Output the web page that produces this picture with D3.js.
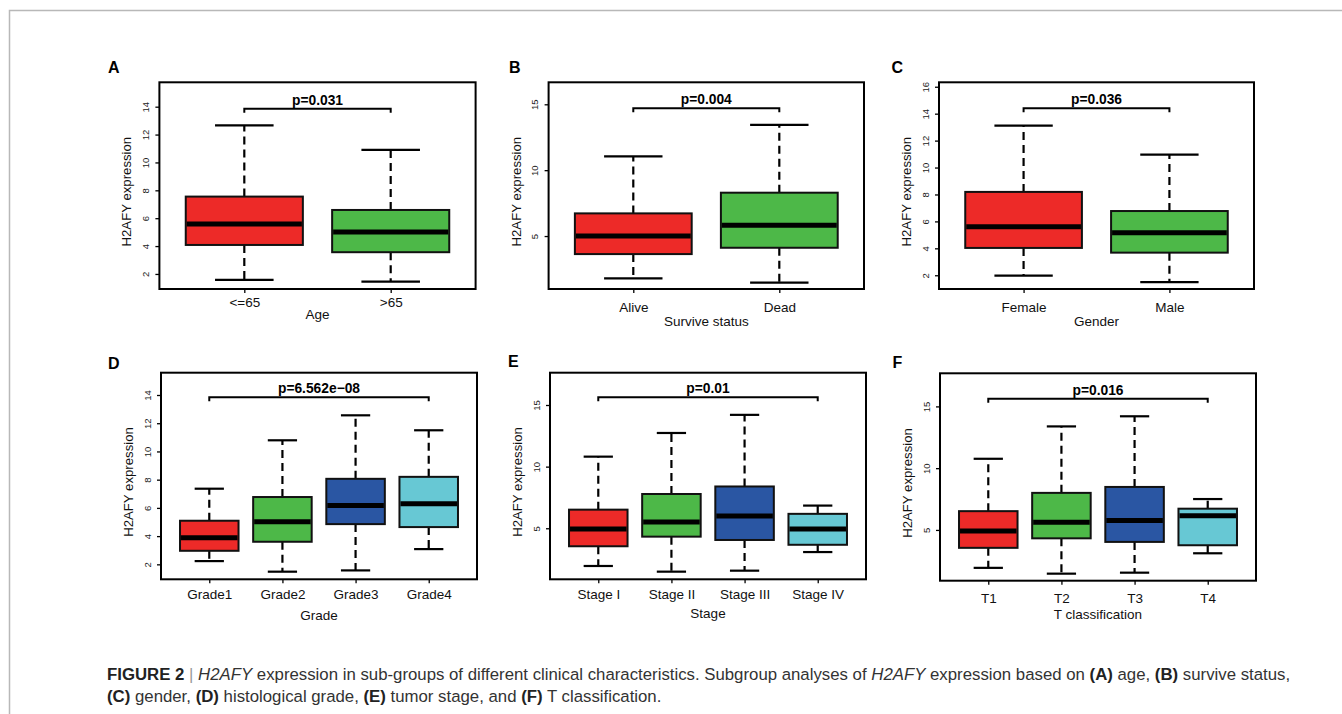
<!DOCTYPE html>
<html><head><meta charset="utf-8">
<script src="https://cdn.jsdelivr.net/npm/d3@7"></script>
<style>body{margin:0;background:#fff}svg{display:block}</style>
</head><body>
<svg id="chart" width="1342" height="714"></svg>
<script>
// ---------- DATA (each stat row: [lower whisker, Q1, median, Q3, upper whisker]) ----------
const yTitle = "H2AFY expression";

const ageGroups = ["<=65", ">65"];
const ageStats = [[1.57, 4.08, 5.59, 7.55, 12.66], [1.45, 3.56, 5.01, 6.59, 10.90]];
const ageTicks = [2, 4, 6, 8, 10, 12, 14];
const ageYLim = [0.92, 15.75];
const ageP = "p=0.031";
const ageBracket = 13.85;

const statusGroups = ["Alive", "Dead"];
const statusStats = [[1.79, 3.63, 5.00, 6.72, 11.04], [1.46, 4.11, 5.81, 8.29, 13.44]];
const statusTicks = [5, 10, 15];
const statusYLim = [0.98, 16.67];
const statusP = "p=0.004";
const statusBracket = 14.7;

const genderGroups = ["Female", "Male"];
const genderStats = [[1.97, 4.03, 5.61, 8.19, 13.11], [1.49, 3.68, 5.16, 6.77, 10.96]];
const genderTicks = [2, 4, 6, 8, 10, 12, 14, 16];
const genderYLim = [0.98, 16.33];
const genderP = "p=0.036";
const genderBracket = 14.4;

const gradeGroups = ["Grade1", "Grade2", "Grade3", "Grade4"];
const gradeStats = [[2.23, 2.96, 3.89, 5.09, 7.36], [1.48, 3.60, 5.02, 6.77, 10.79],
                    [1.57, 4.85, 6.17, 8.06, 12.56], [3.08, 4.64, 6.30, 8.20, 11.50]];
const gradeTicks = [2, 4, 6, 8, 10, 12, 14];
const gradeYLim = [0.94, 15.58];
const gradeP = "p=6.562e\u221208";
const gradeBracket = 13.84;

const stageGroups = ["Stage I", "Stage II", "Stage III", "Stage IV"];
const stageStats = [[1.94, 3.54, 4.95, 6.51, 10.81], [1.48, 4.32, 5.50, 7.78, 12.73],
                    [1.56, 4.05, 5.99, 8.39, 14.20], [3.07, 3.66, 4.95, 6.17, 6.84]];
const stageTicks = [5, 10, 15];
const stageYLim = [0.86, 17.62];
const stageP = "p=0.01";
const stageBracket = 15.62;

const tGroups = ["T1", "T2", "T3", "T4"];
const tStats = [[1.93, 3.55, 4.92, 6.52, 10.76], [1.46, 4.32, 5.62, 8.00, 13.38],
                [1.54, 4.03, 5.76, 8.48, 14.20], [3.11, 3.76, 6.15, 6.72, 7.50]];
const tTicks = [5, 10, 15];
const tYLim = [0.89, 17.68];
const tP = "p=0.016";
const tBracket = 15.61;

const boxColors = ["#ED2A28", "#4DB848", "#2A56A3", "#67C8D4"];

// ---------- LAYOUT ----------
const panels = [
  {letter: "A", lx: 108, ly: 72.7, groups: ageGroups, stats: ageStats, ticks: ageTicks, yLim: ageYLim, p: ageP, bracket: ageBracket, xTitle: "Age",
   x0: 159.4, x1: 475.6, y0: 82.3, y1: 289, labDy: 17.5, titDy: 30},
  {letter: "B", lx: 509, ly: 72.7, groups: statusGroups, stats: statusStats, ticks: statusTicks, yLim: statusYLim, p: statusP, bracket: statusBracket, xTitle: "Survive status",
   x0: 548.6, x1: 864, y0: 82.3, y1: 289, labDy: 22.5, titDy: 36.5},
  {letter: "C", lx: 891.5, ly: 72.7, groups: genderGroups, stats: genderStats, ticks: genderTicks, yLim: genderYLim, p: genderP, bracket: genderBracket, xTitle: "Gender",
   x0: 939, x1: 1254, y0: 82.3, y1: 289, labDy: 22.5, titDy: 36.5},
  {letter: "D", lx: 108, ly: 369, groups: gradeGroups, stats: gradeStats, ticks: gradeTicks, yLim: gradeYLim, p: gradeP, bracket: gradeBracket, xTitle: "Grade",
   x0: 161, x1: 477, y0: 372.7, y1: 579.3, labDy: 19.7, titDy: 40.5},
  {letter: "E", lx: 508, ly: 367, groups: stageGroups, stats: stageStats, ticks: stageTicks, yLim: stageYLim, p: stageP, bracket: stageBracket, xTitle: "Stage",
   x0: 550, x1: 866, y0: 372.7, y1: 579.3, labDy: 20, titDy: 39},
  {letter: "F", lx: 892.5, ly: 368.3, groups: tGroups, stats: tStats, ticks: tTicks, yLim: tYLim, p: tP, bracket: tBracket, xTitle: "T classification",
   x0: 940, x1: 1256, y0: 373.3, y1: 580.7, labDy: 22.3, titDy: 38}
];

const FONT = "'Liberation Sans', Arial, Helvetica, sans-serif";
const svg = d3.select("#chart").style("font-family", FONT);
svg.append("rect").attr("width", 1342).attr("height", 714).attr("fill", "#fff");

// figure frame (top and left)
svg.append("path").attr("d", "M9.5,714 L9.5,10.5 L1342,10.5")
   .attr("fill", "none").attr("stroke", "#b8b8b8").attr("stroke-width", 1.5);

function drawPanel(p) {
  const g = svg.append("g");
  const n = p.groups.length;
  const x = d3.scaleLinear().domain([0.5 - 0.04 * n, n + 0.5 + 0.04 * n]).range([p.x0, p.x1]);
  const y = d3.scaleLinear().domain(p.yLim).range([p.y1, p.y0]);
  const unit = x(2) - x(1);
  const bw = 0.8 * unit, cw = 0.4 * unit;
  const data = p.groups.map((name, i) => ({name, i: i + 1, s: p.stats[i], color: boxColors[i]}));

  // whiskers (dashed)
  const wg = g.append("g").attr("stroke", "#000").attr("stroke-width", 2.2).attr("stroke-dasharray", "8,5");
  wg.selectAll("line.up").data(data).join("line")
    .attr("x1", d => x(d.i)).attr("x2", d => x(d.i))
    .attr("y1", d => y(d.s[3])).attr("y2", d => y(d.s[4]));
  wg.selectAll("line.lo").data(data).join("line").attr("class", "lo")
    .attr("x1", d => x(d.i)).attr("x2", d => x(d.i))
    .attr("y1", d => y(d.s[1])).attr("y2", d => y(d.s[0]));
  // caps
  const cg = g.append("g").attr("stroke", "#000").attr("stroke-width", 2.2);
  [0, 4].forEach(k => {
    cg.selectAll("line.c" + k).data(data).join("line").attr("class", "c" + k)
      .attr("x1", d => x(d.i) - cw / 2).attr("x2", d => x(d.i) + cw / 2)
      .attr("y1", d => y(d.s[k])).attr("y2", d => y(d.s[k]));
  });
  // boxes
  g.append("g").selectAll("rect").data(data).join("rect")
    .attr("x", d => x(d.i) - bw / 2).attr("width", bw)
    .attr("y", d => y(d.s[3])).attr("height", d => y(d.s[1]) - y(d.s[3]))
    .attr("fill", d => d.color).attr("stroke", "#111").attr("stroke-width", 2);
  // medians
  g.append("g").selectAll("line").data(data).join("line")
    .attr("x1", d => x(d.i) - bw / 2 + 1).attr("x2", d => x(d.i) + bw / 2 - 1)
    .attr("y1", d => y(d.s[2])).attr("y2", d => y(d.s[2]))
    .attr("stroke", "#000").attr("stroke-width", 5);

  // frame
  g.append("rect").attr("x", p.x0).attr("y", p.y0).attr("width", p.x1 - p.x0).attr("height", p.y1 - p.y0)
    .attr("fill", "none").attr("stroke", "#000").attr("stroke-width", 2);

  // y axis
  const ya = g.append("g").attr("transform", `translate(${p.x0},0)`)
    .call(d3.axisLeft(y).tickValues(p.ticks).tickSize(4).tickFormat(d3.format("d")));
  ya.select(".domain").remove();
  ya.selectAll(".tick line").attr("stroke", "#000").attr("stroke-width", 1.3);
  ya.selectAll(".tick text").attr("x", null).attr("dy", null)
    .attr("text-anchor", "middle").attr("transform", "translate(-10.5,0) rotate(-90)")
    .attr("font-size", 9.5).attr("font-family", FONT).attr("fill", "#222");

  // x axis
  const xa = g.append("g").attr("transform", `translate(0,${p.y1})`)
    .call(d3.axisBottom(x).tickValues(data.map(d => d.i)).tickSize(4).tickFormat(i => p.groups[i - 1]));
  xa.select(".domain").remove();
  xa.selectAll(".tick line").attr("stroke", "#000").attr("stroke-width", 1.3);
  xa.selectAll(".tick text").attr("y", p.labDy).attr("dy", null)
    .attr("font-size", 13.5).attr("font-family", FONT).attr("fill", "#111");

  // titles
  g.append("text").attr("x", (p.x0 + p.x1) / 2).attr("y", p.y1 + p.titDy)
    .attr("text-anchor", "middle").attr("font-size", 13.5).attr("fill", "#111").text(p.xTitle);
  g.append("text").attr("transform", `translate(${p.x0 - 28},${(p.y0 + p.y1) / 2 + 6}) rotate(-90)`)
    .attr("text-anchor", "middle").attr("font-size", 13.2).attr("fill", "#111").text(yTitle);

  // significance bracket
  const by = y(p.bracket), bx1 = x(1), bx2 = x(n);
  g.append("path").attr("d", `M${bx1},${by + 4} L${bx1},${by} L${bx2},${by} L${bx2},${by + 4}`)
    .attr("fill", "none").attr("stroke", "#000").attr("stroke-width", 2);
  g.append("text").attr("x", (bx1 + bx2) / 2).attr("y", by - 4)
    .attr("text-anchor", "middle").attr("font-size", 13.8).attr("font-weight", "bold").attr("fill", "#000").text(p.p);

  // panel letter
  g.append("text").attr("x", p.lx).attr("y", p.ly).attr("font-size", 16).attr("font-weight", "bold")
    .attr("fill", "#000").text(p.letter);
}
panels.forEach(drawPanel);

// caption
const cap1 = [
  ["FIGURE 2", "b"], [" ", ""], ["|", "sep"], [" ", ""], ["H2AFY", "i"],
  [" expression in sub-groups of different clinical characteristics. Subgroup analyses of ", ""],
  ["H2AFY", "i"], [" expression based on ", ""], ["(A)", "b"], [" age, ", ""], ["(B)", "b"], [" survive status,", ""]
];
const cap2 = [
  ["(C)", "b"], [" gender, ", ""], ["(D)", "b"], [" histological grade, ", ""], ["(E)", "b"],
  [" tumor stage, and ", ""], ["(F)", "b"], [" T classification.", ""]
];
function capLine(parts, yy) {
  const t = svg.append("text").attr("x", 107).attr("y", yy).attr("font-size", 16.8).attr("fill", "#333")
    .attr("xml:space", "preserve").style("white-space", "pre");
  parts.forEach(([s, st]) => {
    const ts = t.append("tspan").text(s);
    if (st === "b") ts.attr("font-weight", "bold").attr("fill", "#222");
    if (st === "i") ts.attr("font-style", "italic");
    if (st === "sep") ts.attr("fill", "#999");
  });
  return t;
}
capLine(cap1, 680);
capLine(cap2, 702);
</script>
</body></html>
